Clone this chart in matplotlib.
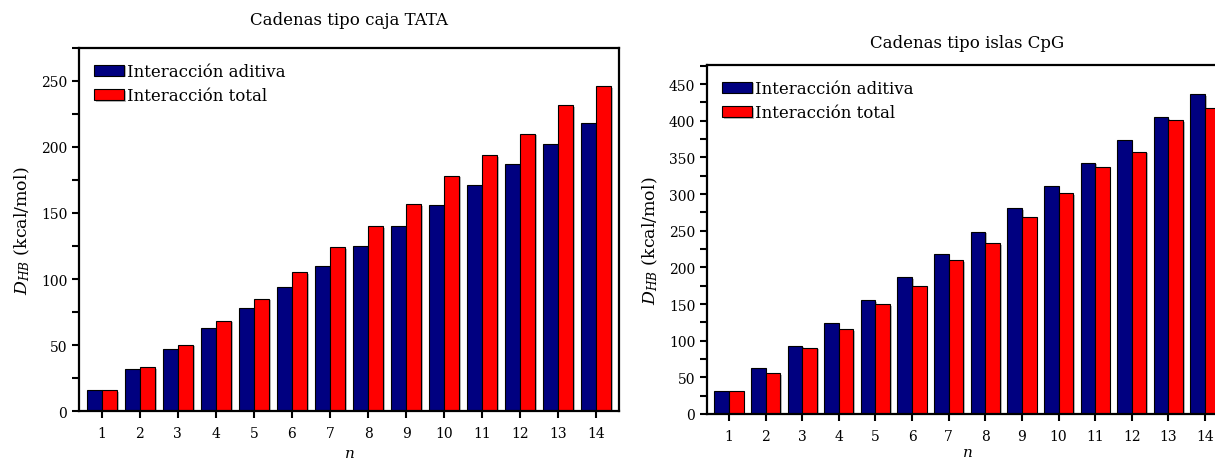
import matplotlib
matplotlib.use("Agg")
import matplotlib.pyplot as plt
import matplotlib.patheffects as pe
from matplotlib.ticker import MultipleLocator
import numpy as np

plt.rcParams['font.family'] = ['DejaVu Serif']
plt.rcParams['mathtext.fontset'] = 'dejavuserif'

n_values = list(range(1, 15))

# Cadenas tipo caja TATA
tata_aditiva = [15.9, 31.5, 47.2, 62.8, 78.2, 93.8, 109.5, 124.9, 140.5, 155.9, 171.3, 187.2, 202.6, 218.0]
tata_total = [15.9, 33.3, 50.2, 68.4, 85.0, 105.2, 123.9, 140.0, 156.7, 178.4, 193.7, 210.1, 231.6, 246.0]

# Cadenas tipo islas CpG
cpg_aditiva = [30.8, 62.3, 93.3, 124.7, 155.6, 187.0, 218.0, 248.9, 280.3, 311.3, 342.7, 373.6, 405.0, 436.0]
cpg_total = [30.8, 55.5, 90.6, 115.6, 149.7, 174.7, 209.8, 233.4, 268.5, 300.8, 337.2, 358.0, 400.9, 417.3]

labels = ['Interacción aditiva', 'Interacción total']
colors = ['#000080', '#FF0000']

W, H = 1215, 460
fig = plt.figure(figsize=(W / 100, H / 100), dpi=100)

shadow = [pe.SimplePatchShadow(offset=(1.2, -1.2), shadow_rgbFace='0.55', alpha=0.6), pe.Normal()]


def px_axes(left, top, right, bottom):
    return fig.add_axes([left / W, 1 - bottom / H, (right - left) / W, (bottom - top) / H])


def draw_panel(ax, aditiva, total, title, ymax, title_pad, xlabel_pad):
    x = np.array(n_values)
    w = 0.4
    b1 = ax.bar(x - w / 2, aditiva, width=w, color=colors[0], edgecolor='black',
                linewidth=0.8, label=labels[0])
    b2 = ax.bar(x + w / 2, total, width=w, color=colors[1], edgecolor='black',
                linewidth=0.8, label=labels[1])
    for p in list(b1) + list(b2):
        p.set_path_effects(shadow)
    ax.set_xlim(0.4, 14.6)
    ax.set_ylim(0, ymax)
    ax.set_xticks(n_values)
    ax.yaxis.set_major_locator(MultipleLocator(50))
    ax.yaxis.set_minor_locator(MultipleLocator(25))
    ax.tick_params(axis='both', which='both', direction='out', width=1.5,
                   length=5, labelsize=10, top=False, right=False)
    ax.tick_params(axis='x', pad=6)
    ax.tick_params(axis='x', which='minor', bottom=False)
    for s in ax.spines.values():
        s.set_linewidth(1.6)
    ax.set_xlabel('$n$', fontsize=11, labelpad=xlabel_pad)
    ax.set_ylabel('$D_{HB}$ (kcal/mol)', fontsize=12.5, labelpad=6)
    ax.set_title(title, fontsize=12, pad=title_pad)
    leg = ax.legend(loc='upper left', frameon=False, fontsize=12,
                    handlelength=1.8, handleheight=0.63, handletextpad=0.2,
                    labelspacing=0.45, borderaxespad=0.5,
                    bbox_to_anchor=(0.0, 1.0))
    return leg


ax1 = px_axes(79, 49, 619, 412)
draw_panel(ax1, tata_aditiva, tata_total, 'Cadenas tipo caja TATA', 275, 17, 4)

ax2 = px_axes(707, 66, 1227, 415)
draw_panel(ax2, cpg_aditiva, cpg_total, 'Cadenas tipo islas CpG', 476, 13, 1)

fig.savefig('out.png', dpi=100)
